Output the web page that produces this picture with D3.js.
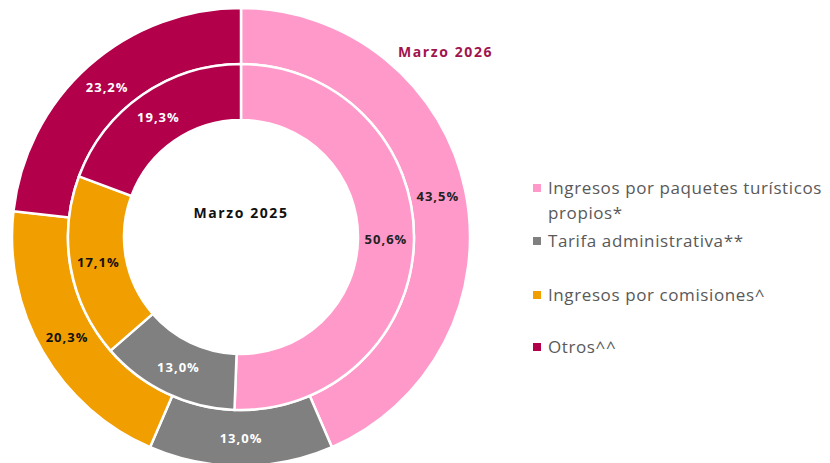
<!DOCTYPE html>
<html>
<head>
<meta charset="utf-8">
<script src="https://cdn.jsdelivr.net/npm/d3@7"></script>
<style>
  body { margin: 0; background: #fff; }
  svg { display: block; font-family: "Open Sans", "Noto Sans", sans-serif; }
  .pct { font-size: 13px; font-weight: bold; text-anchor: middle; letter-spacing: 1px; }
  .legend text { font-size: 17px; fill: #595959; letter-spacing: 0.6px; }
</style>
</head>
<body>
<div id="chart"></div>
<script>
var categories = [
  "Ingresos por paquetes turísticos propios*",
  "Tarifa administrativa**",
  "Ingresos por comisiones^",
  "Otros^^"
];
var values2025 = [50.6, 13.0, 17.1, 19.3];
var values2026 = [43.5, 13.0, 20.3, 23.2];
var colors = ["#ff99c9", "#808080", "#f19e00", "#b3004b"];
var labelColors = ["#222", "#fff", "#111", "#fff"];

var width = 830, height = 463;
var cx = 241, cy = 237;

var svg = d3.select("#chart").append("svg")
    .attr("width", width)
    .attr("height", height);

var pie = d3.pie().sort(null).value(function(d) { return d; });

function drawRing(values, inner, outer) {
  var arc = d3.arc().innerRadius(inner).outerRadius(outer);
  var g = svg.append("g").attr("transform", "translate(" + cx + "," + cy + ")");
  var arcs = pie(values);

  g.selectAll("path")
      .data(arcs)
      .enter().append("path")
      .attr("d", arc)
      .attr("fill", function(d, i) { return colors[i]; })
      .attr("stroke", "#fff")
      .attr("stroke-width", 2.5);

  g.selectAll("text")
      .data(arcs)
      .enter().append("text")
      .attr("class", "pct")
      .attr("transform", function(d) { return "translate(" + arc.centroid(d) + ")"; })
      .attr("dy", ".35em")
      .attr("fill", function(d, i) { return labelColors[i]; })
      .text(function(d) { return d.value.toFixed(1).replace(".", ",") + "%"; });
}

drawRing(values2026, 173, 229);
drawRing(values2025, 117, 173);

// center and ring titles
svg.append("text")
    .attr("x", cx)
    .attr("y", 218)
    .attr("text-anchor", "middle")
    .style("font-size", "14px")
    .style("font-weight", "bold")
    .style("letter-spacing", "1.6px")
    .attr("fill", "#111")
    .text("Marzo 2025");

svg.append("text")
    .attr("x", 398)
    .attr("y", 57)
    .style("font-size", "14px")
    .style("font-weight", "bold")
    .style("letter-spacing", "1.6px")
    .attr("fill", "#a0154e")
    .text("Marzo 2026");

// legend
var legendRows = [
  { lines: ["Ingresos por paquetes turísticos", "propios*"], y: 188 },
  { lines: ["Tarifa administrativa**"], y: 241 },
  { lines: ["Ingresos por comisiones^"], y: 295 },
  { lines: ["Otros^^"], y: 347 }
];

var legend = svg.append("g").attr("class", "legend")
  .selectAll("g")
  .data(legendRows)
  .enter().append("g")
  .attr("transform", function(d) { return "translate(533," + d.y + ")"; });

legend.append("rect")
    .attr("x", 0)
    .attr("y", -4)
    .attr("width", 8)
    .attr("height", 8)
    .attr("fill", function(d, i) { return colors[i]; });

legend.append("text")
    .attr("x", 15)
    .attr("y", 6)
  .selectAll("tspan")
    .data(function(d) { return d.lines; })
    .enter().append("tspan")
    .attr("x", 15)
    .attr("dy", function(d, i) { return i === 0 ? 0 : 25; })
    .text(function(d) { return d; });
</script>
</body>
</html>
